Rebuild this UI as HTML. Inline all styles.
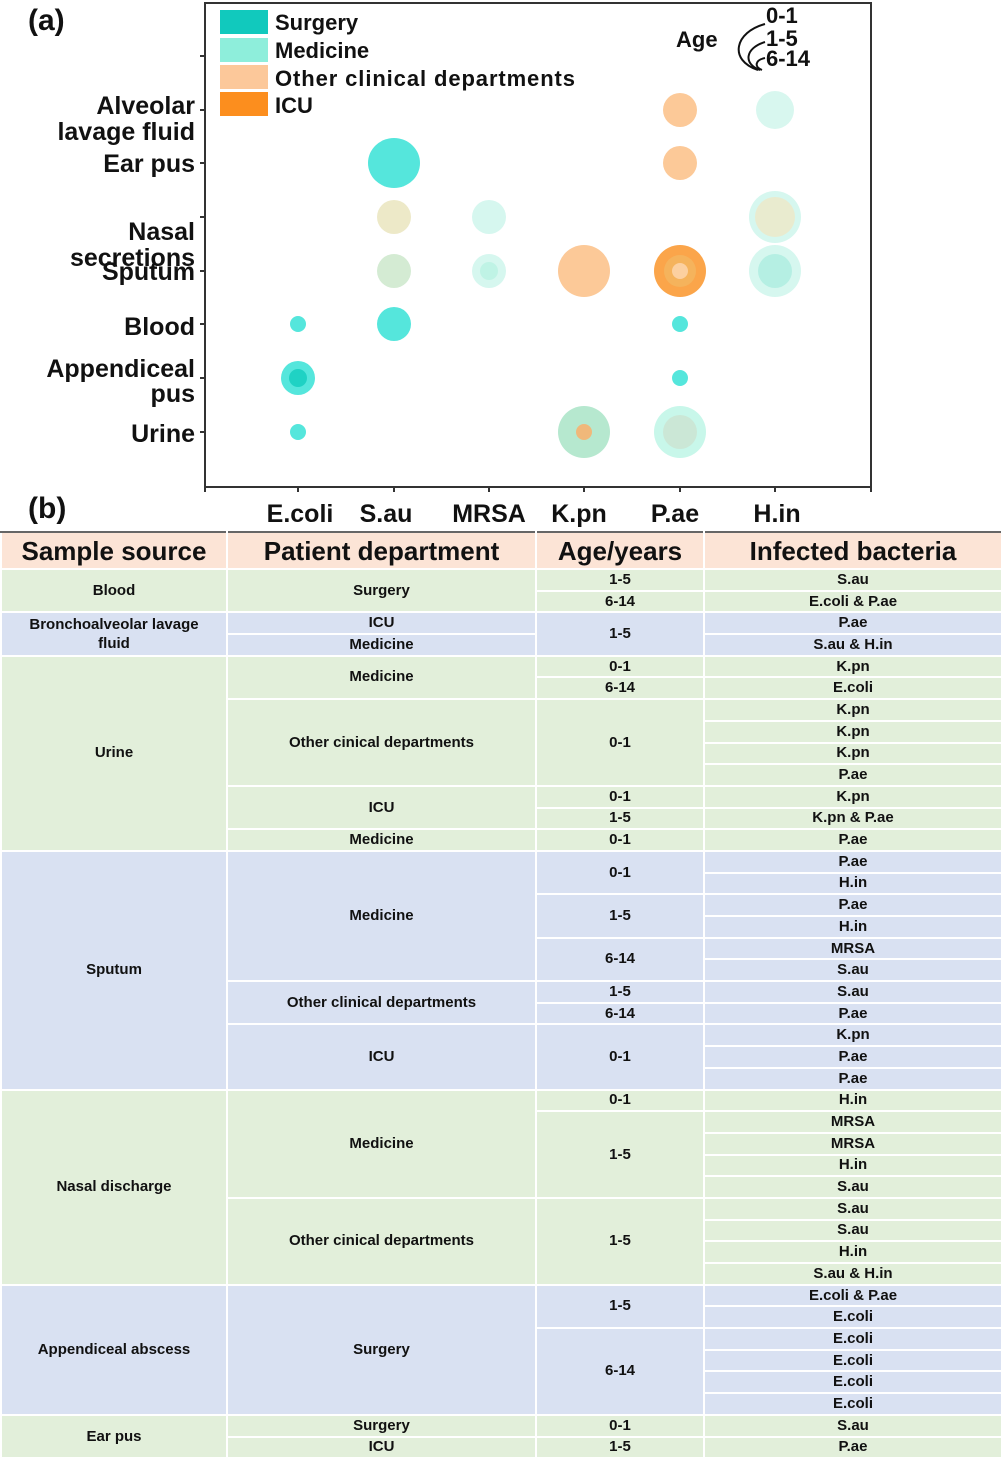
<!DOCTYPE html>
<html><head><meta charset="utf-8"><style>
html,body{margin:0;padding:0;background:#fff;width:1001px;height:1456px;overflow:hidden;font-family:"Liberation Sans",sans-serif}
svg text{font-family:"Liberation Sans",sans-serif;font-weight:bold;fill:#111}
table{position:absolute;left:0;top:531px;width:1001px;border-collapse:collapse;table-layout:fixed}
td,th{border:2px solid #fff;text-align:center;vertical-align:middle;padding:0;font-weight:bold;font-size:15px;color:#111;line-height:14px;overflow:hidden;white-space:nowrap}
th{background:#fce4d6;font-size:26px;height:35px;line-height:30px;border-top:2px solid #666}
tbody tr{height:21.7px}
.g td{background:#e2efda}
.b td{background:#d9e1f2}
</style></head><body>
<svg width="1001" height="531" style="position:absolute;left:0;top:0">
<text x="28" y="30" font-size="30">(a)</text>
<text x="28" y="518" font-size="30">(b)</text>
<rect x="205" y="3" width="666" height="484" fill="none" stroke="#333" stroke-width="2"/>
<g stroke="#333" stroke-width="2">
<line x1="200" y1="56" x2="205" y2="56"/><line x1="200" y1="110" x2="205" y2="110"/><line x1="200" y1="163" x2="205" y2="163"/><line x1="200" y1="217" x2="205" y2="217"/><line x1="200" y1="271" x2="205" y2="271"/><line x1="200" y1="324" x2="205" y2="324"/><line x1="200" y1="378" x2="205" y2="378"/><line x1="200" y1="432" x2="205" y2="432"/>
<line x1="205" y1="487" x2="205" y2="492"/><line x1="298" y1="487" x2="298" y2="492"/><line x1="394" y1="487" x2="394" y2="492"/><line x1="489" y1="487" x2="489" y2="492"/><line x1="584" y1="487" x2="584" y2="492"/><line x1="680" y1="487" x2="680" y2="492"/><line x1="775" y1="487" x2="775" y2="492"/><line x1="871" y1="487" x2="871" y2="492"/>
</g>
<g font-size="25" text-anchor="end">
<text x="195" y="114">Alveolar</text><text x="195" y="140">lavage fluid</text>
<text x="195" y="172">Ear pus</text>
<text x="195" y="240">Nasal</text><text x="195" y="266">secretions</text><text x="195" y="280">Sputum</text>
<text x="195" y="335">Blood</text>
<text x="195" y="377">Appendiceal</text><text x="195" y="402">pus</text>
<text x="195" y="442">Urine</text>
</g>
<g font-size="25" text-anchor="middle">
<text x="300" y="522">E.coli</text><text x="386" y="522">S.au</text><text x="489" y="522">MRSA</text><text x="579" y="522">K.pn</text><text x="675" y="522">P.ae</text><text x="777" y="522">H.in</text>
</g>
<rect x="220" y="10" width="48" height="24" fill="#11c9bd"/>
<rect x="220" y="38" width="48" height="24" fill="#8eeedb"/>
<rect x="220" y="65" width="48" height="24" fill="#fcc89a"/>
<rect x="220" y="92" width="48" height="24" fill="#fc8e1e"/>
<g font-size="22"><text x="275" y="30">Surgery</text><text x="275" y="58">Medicine</text><text x="275" y="86" textLength="300">Other clinical departments</text><text x="275" y="113">ICU</text>
<text x="676" y="47">Age</text><text x="766" y="23">0-1</text><text x="766" y="46">1-5</text><text x="766" y="66">6-14</text></g>
<g fill="none" stroke="#111" stroke-width="2"><path d="M765 24 C735 32 728 60 758 70"/><path d="M765 42 C745 48 743 64 760 70"/><path d="M765 58 C755 60 754 67 762 70"/></g>
<g>
<circle cx="775" cy="110" r="19" fill="#d8f7ef"/>
<circle cx="680" cy="110" r="17" fill="#fcc998"/>
<ellipse cx="394" cy="163" rx="26" ry="25" fill="#55e6dc"/>
<circle cx="680" cy="163" r="17" fill="#fcc998"/>
<circle cx="394" cy="217" r="17" fill="#ede9c8"/>
<circle cx="489" cy="217" r="17" fill="#d6f7ef"/>
<circle cx="775" cy="217" r="26" fill="#d6f7ef"/><circle cx="775" cy="217" r="20" fill="#e9ebcf"/>
<circle cx="394" cy="271" r="17" fill="#d4ebd3"/>
<circle cx="489" cy="271" r="17" fill="#d6f7ef"/><circle cx="489" cy="271" r="9" fill="#bff3e5"/>
<circle cx="584" cy="271" r="26" fill="#fcc998"/>
<circle cx="680" cy="271" r="26" fill="#fba54a"/><circle cx="680" cy="271" r="16" fill="#f5b35c"/><circle cx="680" cy="271" r="8" fill="#fcd0a0"/>
<circle cx="775" cy="271" r="26" fill="#d6f7ef"/><circle cx="775" cy="271" r="17" fill="#b5efe3"/>
<circle cx="298" cy="324" r="8" fill="#55e6dc"/>
<circle cx="394" cy="324" r="17" fill="#55e6dc"/>
<circle cx="680" cy="324" r="8" fill="#55e6dc"/>
<circle cx="298" cy="378" r="17" fill="#55e6dc"/><circle cx="298" cy="378" r="9" fill="#1fd2c4"/>
<circle cx="680" cy="378" r="8" fill="#55e6dc"/>
<circle cx="298" cy="432" r="8" fill="#55e6dc"/>
<circle cx="584" cy="432" r="26" fill="#b6e8cf"/><circle cx="584" cy="432" r="8" fill="#f0b87a"/>
<circle cx="680" cy="432" r="26" fill="#c8f7ea"/><circle cx="680" cy="432" r="17" fill="#cbe7d6"/>
</g>
</svg>
<table>
<colgroup><col style="width:226px"><col style="width:309px"><col style="width:168px"><col style="width:298px"></colgroup>
<thead><tr><th>Sample source</th><th>Patient department</th><th>Age/years</th><th>Infected bacteria</th></tr></thead>
<tbody class="g">
<tr><td rowspan="2">Blood</td><td rowspan="2">Surgery</td><td>1-5</td><td>S.au</td></tr>
<tr><td>6-14</td><td>E.coli &amp; P.ae</td></tr>
</tbody>
<tbody class="b">
<tr><td rowspan="2" style="white-space:normal;padding:0 14px;line-height:19px">Bronchoalveolar lavage fluid</td><td>ICU</td><td rowspan="2">1-5</td><td>P.ae</td></tr>
<tr><td>Medicine</td><td>S.au &amp; H.in</td></tr>
</tbody>
<tbody class="g">
<tr><td rowspan="9">Urine</td><td rowspan="2">Medicine</td><td>0-1</td><td>K.pn</td></tr>
<tr><td>6-14</td><td>E.coli</td></tr>
<tr><td rowspan="4">Other cinical departments</td><td rowspan="4">0-1</td><td>K.pn</td></tr>
<tr><td>K.pn</td></tr>
<tr><td>K.pn</td></tr>
<tr><td>P.ae</td></tr>
<tr><td rowspan="2">ICU</td><td>0-1</td><td>K.pn</td></tr>
<tr><td>1-5</td><td>K.pn &amp; P.ae</td></tr>
<tr><td>Medicine</td><td>0-1</td><td>P.ae</td></tr>
</tbody>
<tbody class="b">
<tr><td rowspan="11">Sputum</td><td rowspan="6">Medicine</td><td rowspan="2">0-1</td><td>P.ae</td></tr>
<tr><td>H.in</td></tr>
<tr><td rowspan="2">1-5</td><td>P.ae</td></tr>
<tr><td>H.in</td></tr>
<tr><td rowspan="2">6-14</td><td>MRSA</td></tr>
<tr><td>S.au</td></tr>
<tr><td rowspan="2">Other clinical departments</td><td>1-5</td><td>S.au</td></tr>
<tr><td>6-14</td><td>P.ae</td></tr>
<tr><td rowspan="3">ICU</td><td rowspan="3">0-1</td><td>K.pn</td></tr>
<tr><td>P.ae</td></tr>
<tr><td>P.ae</td></tr>
</tbody>
<tbody class="g">
<tr><td rowspan="9">Nasal discharge</td><td rowspan="5">Medicine</td><td>0-1</td><td>H.in</td></tr>
<tr><td rowspan="4">1-5</td><td>MRSA</td></tr>
<tr><td>MRSA</td></tr>
<tr><td>H.in</td></tr>
<tr><td>S.au</td></tr>
<tr><td rowspan="4">Other cinical departments</td><td rowspan="4">1-5</td><td>S.au</td></tr>
<tr><td>S.au</td></tr>
<tr><td>H.in</td></tr>
<tr><td>S.au &amp; H.in</td></tr>
</tbody>
<tbody class="b">
<tr><td rowspan="6">Appendiceal abscess</td><td rowspan="6">Surgery</td><td rowspan="2">1-5</td><td>E.coli &amp; P.ae</td></tr>
<tr><td>E.coli</td></tr>
<tr><td rowspan="4">6-14</td><td>E.coli</td></tr>
<tr><td>E.coli</td></tr>
<tr><td>E.coli</td></tr>
<tr><td>E.coli</td></tr>
</tbody>
<tbody class="g">
<tr><td rowspan="2">Ear pus</td><td>Surgery</td><td>0-1</td><td>S.au</td></tr>
<tr><td>ICU</td><td>1-5</td><td>P.ae</td></tr>
</tbody>
</table>
</body></html>
